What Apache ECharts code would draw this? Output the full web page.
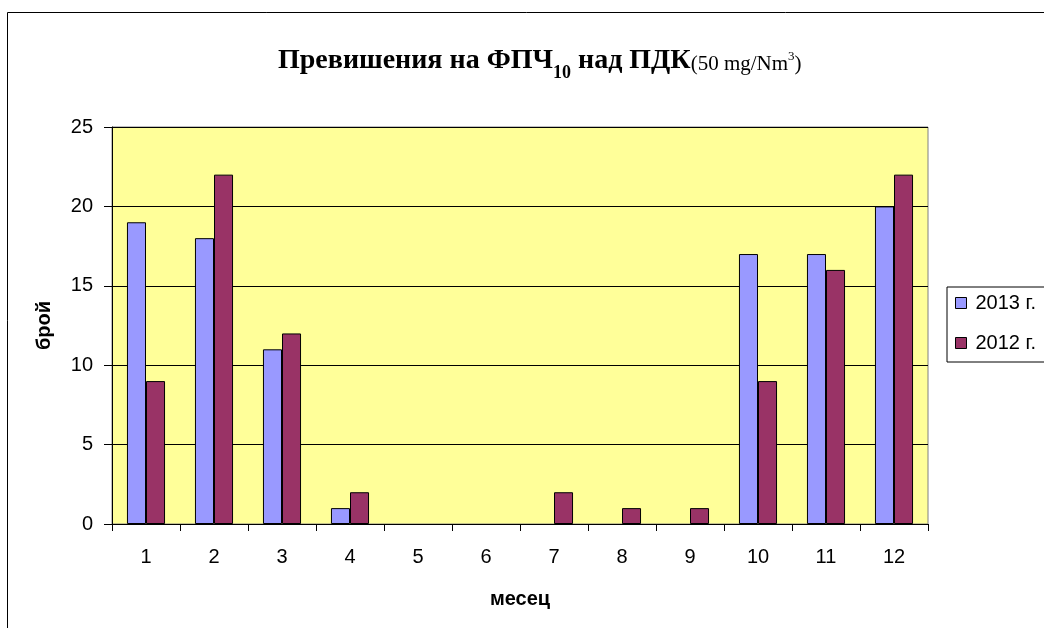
<!DOCTYPE html>
<html>
<head>
<meta charset="utf-8">
<script src="https://cdn.jsdelivr.net/npm/echarts@6/dist/echarts.min.js"></script>
<style>
  html, body { margin: 0; padding: 0; background: #fff; }
  #chart { width: 1044px; height: 628px; }
</style>
</head>
<body>
<div id="chart"></div>
<script>
// месеци и стойности
var months = ['1', '2', '3', '4', '5', '6', '7', '8', '9', '10', '11', '12'];
var y2013 = [19, 18, 11, 1, 0, 0, 0, 0, 0, 17, 17, 20];
var y2012 = [9, 22, 12, 2, 0, 0, 2, 1, 1, 9, 16, 22];
var yTicks = [0, 5, 10, 15, 20, 25];

var chart = echarts.init(document.getElementById('chart'));

var serif = '"Liberation Serif", "Times New Roman", serif';
var sans = '"Liberation Sans", Arial, sans-serif';
var barBorder = { borderColor: '#000', borderWidth: 1 };

// нулевите стойности не се рисуват (както в Excel)
function hideZero(arr) {
  return arr.map(function (v) { return v === 0 ? null : v; });
}

chart.setOption({
  animation: false,
  backgroundColor: '#fff',
  graphic: [{
    type: 'rect',
    shape: { x: 7.5, y: 12.5, width: 1100, height: 700 },
    style: { fill: 'none', stroke: '#000', lineWidth: 1 },
    silent: true
  }],
  title: {
    text: '{b|Превишения на ФПЧ}{sub|10}{b| над ПДК}{n|(50 mg/Nm}{sup|3}{n|)}',
    left: 273,
    top: 36,
    textStyle: {
      fontWeight: 'normal',
      rich: {
        b: { fontFamily: serif, fontWeight: 'bold', fontSize: 28, color: '#000', verticalAlign: 'bottom', lineHeight: 34 },
        sub: { fontFamily: serif, fontWeight: 'bold', fontSize: 18, color: '#000', verticalAlign: 'bottom', lineHeight: 34, padding: [0, 0, -7, 0] },
        n: { fontFamily: serif, fontWeight: 'normal', fontSize: 21, color: '#000', verticalAlign: 'bottom', lineHeight: 34 },
        sup: { fontFamily: serif, fontWeight: 'normal', fontSize: 13, color: '#000', verticalAlign: 'top', lineHeight: 34, padding: [9, 0, 0, 0] }
      }
    }
  },
  legend: {
    orient: 'vertical',
    left: 947,
    top: 287,
    padding: [6, 30, 9, 8],
    itemGap: 20,
    itemWidth: 11,
    itemHeight: 11,
    borderColor: '#000',
    borderWidth: 1,
    icon: 'rect',
    itemStyle: { borderColor: '#000', borderWidth: 1 },
    textStyle: { fontFamily: sans, fontSize: 20, color: '#000', padding: [0, 0, 0, 4] },
    data: ['2013 г.', '2012 г.']
  },
  grid: {
    left: 112,
    top: 127,
    right: 116,
    bottom: 104,
    show: true,
    backgroundColor: '#FFFF99',
    borderColor: '#808080',
    borderWidth: 1
  },
  xAxis: {
    type: 'category',
    data: months,
    name: 'месец',
    nameLocation: 'middle',
    nameGap: 65,
    nameTextStyle: { fontFamily: sans, fontSize: 20, fontWeight: 'bold', color: '#000' },
    axisLine: { lineStyle: { color: '#000', width: 1 } },
    axisTick: { show: true, inside: false, length: 7, alignWithLabel: false, lineStyle: { color: '#000' } },
    axisLabel: { fontFamily: sans, fontSize: 20, color: '#000', margin: 23 }
  },
  yAxis: {
    type: 'value',
    min: 0,
    max: 25,
    interval: 5,
    name: 'брой',
    nameLocation: 'middle',
    nameGap: 58,
    nameRotate: 90,
    nameTextStyle: { fontFamily: sans, fontSize: 20, fontWeight: 'bold', color: '#000' },
    axisLine: { show: true, lineStyle: { color: '#000', width: 1 } },
    axisTick: { show: true, inside: false, length: 8, lineStyle: { color: '#000' } },
    axisLabel: {
      fontFamily: sans, fontSize: 20, color: '#000', margin: 19,
      formatter: function (v) { return yTicks.indexOf(v) >= 0 ? String(v) : ''; }
    },
    splitLine: { show: true, lineStyle: { color: '#000', width: 1 } }
  },
  series: [
    {
      name: '2013 г.',
      type: 'bar',
      data: hideZero(y2013),
      barGap: '0%',
      barCategoryGap: '44%',
      itemStyle: Object.assign({ color: '#9999FF' }, barBorder)
    },
    {
      name: '2012 г.',
      type: 'bar',
      data: hideZero(y2012),
      barGap: '0%',
      barCategoryGap: '44%',
      itemStyle: Object.assign({ color: '#993366' }, barBorder)
    }
  ]
});
</script>
</body>
</html>
